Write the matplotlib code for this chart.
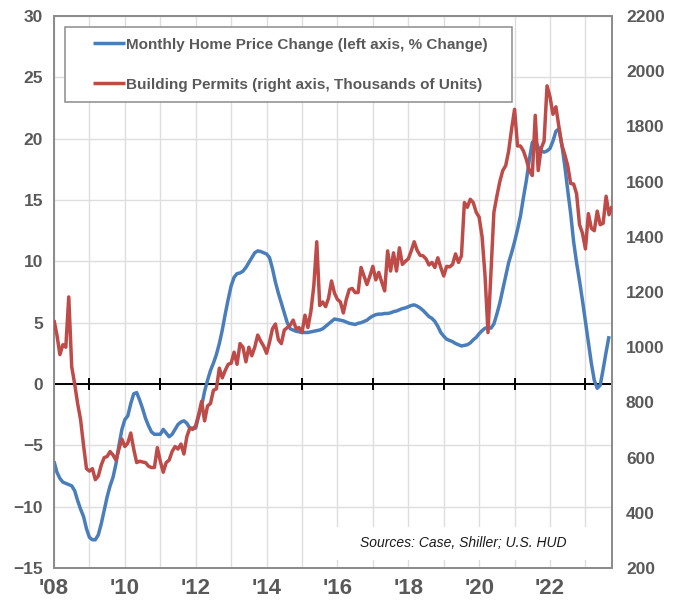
import numpy as np
import matplotlib
matplotlib.use("Agg")
import matplotlib.pyplot as plt
from matplotlib.patches import Rectangle

# ---------------- data (monthly, starting Jan 2008) ----------------
start_year = 2008
price_change = [
    -6.3, -7.2, -7.7, -8.0, -8.1, -8.2, -8.3, -8.7, -9.5, -10.2, -10.8, -11.8,
    -12.5, -12.7, -12.7, -12.3, -11.4, -10.3, -9.2, -8.3, -7.6, -6.5, -5.0, -3.7,
    -2.9, -2.6, -1.6, -0.8, -0.7, -1.3, -2.0, -2.8, -3.4, -3.9, -4.1, -4.1,
    -4.1, -3.7, -4.0, -4.3, -4.1, -3.7, -3.3, -3.1, -3.0, -3.2, -3.6, -3.6,
    -3.6, -2.6, -1.8, -0.6, 0.3, 1.1, 1.7, 2.4, 3.3, 4.4, 5.7, 6.9,
    8.0, 8.7, 9.0, 9.05, 9.2, 9.5, 9.9, 10.3, 10.7, 10.85, 10.8, 10.7,
    10.6, 10.3, 9.4, 8.3, 7.4, 6.6, 5.8, 5.0, 4.5, 4.4, 4.3, 4.25,
    4.2, 4.2, 4.2, 4.25, 4.3, 4.35, 4.4, 4.5, 4.7, 4.9, 5.1, 5.3,
    5.25, 5.2, 5.15, 5.05, 4.95, 4.9, 4.85, 4.95, 5.0, 5.1, 5.2, 5.4,
    5.55, 5.65, 5.7, 5.7, 5.75, 5.75, 5.8, 5.9, 5.95, 6.05, 6.15, 6.2,
    6.3, 6.4, 6.45, 6.35, 6.2, 6.0, 5.75, 5.5, 5.35, 5.1, 4.7, 4.2,
    3.9, 3.65, 3.55, 3.45, 3.3, 3.2, 3.1, 3.15, 3.2, 3.35, 3.6, 3.8,
    4.1, 4.35, 4.55, 4.6, 4.55, 4.9, 5.7, 6.6, 7.7, 8.8, 9.9, 10.7,
    11.6, 12.6, 13.7, 15.2, 16.6, 18.3, 19.7, 19.9, 19.3, 19.0, 18.9, 19.0,
    19.2, 19.8, 20.6, 20.8, 19.5, 17.8, 15.8, 13.9, 11.6, 9.9, 8.4, 6.8,
    5.1, 3.4, 1.7, 0.3, -0.35, -0.1, 1.2, 2.6, 3.9,
]
permits = [
    1098, 1044, 973, 1009, 1000, 1182, 929, 867, 796, 738, 645, 560,
    551, 560, 520, 533, 573, 600, 604, 622, 609, 591, 631, 667,
    640, 653, 689, 631, 582, 587, 584, 582, 569, 564, 564, 636,
    587, 547, 582, 591, 622, 640, 631, 649, 613, 676, 707, 702,
    716, 756, 804, 733, 787, 796, 844, 849, 924, 889, 916, 938,
    942, 982, 938, 1013, 1000, 947, 1000, 969, 1000, 1044, 1022, 1004,
    978, 1018, 1067, 1084, 1027, 1013, 1062, 1071, 1080, 1098, 1067, 1071,
    1053, 1116, 1071, 1129, 1222, 1382, 1151, 1164, 1147, 1178, 1240, 1196,
    1173, 1164, 1124, 1173, 1209, 1213, 1198, 1198, 1289, 1258, 1227, 1258,
    1293, 1244, 1271, 1236, 1204, 1349, 1276, 1342, 1276, 1360, 1300, 1311,
    1320, 1349, 1382, 1351, 1333, 1331, 1320, 1298, 1307, 1289, 1324, 1289,
    1258, 1293, 1291, 1300, 1338, 1307, 1331, 1524, 1507, 1536, 1524, 1489,
    1471, 1400, 1258, 1053, 1267, 1489, 1547, 1600, 1640, 1658, 1711, 1791,
    1862, 1729, 1729, 1711, 1680, 1640, 1622, 1840, 1640, 1720, 1747, 1947,
    1907, 1844, 1871, 1800, 1733, 1698, 1658, 1593, 1591, 1556, 1444, 1413,
    1356, 1484, 1431, 1422, 1493, 1444, 1449, 1547, 1480, 1511,
]
year_ticks = [2008, 2010, 2012, 2014, 2016, 2018, 2020, 2022]
year_labels = ["'08", "'10", "'12", "'14", "'16", "'18", "'20", "'22"]
left_ticks = [-15, -10, -5, 0, 5, 10, 15, 20, 25, 30]
right_ticks = [200, 400, 600, 800, 1000, 1200, 1400, 1600, 1800, 2000, 2200]
label_blue = "Monthly Home Price Change (left axis, % Change)"
label_red = "Building Permits (right axis, Thousands of Units)"
source_note = "Sources: Case, Shiller; U.S. HUD"

# ---------------- styling ----------------
plt.rcParams['font.family'] = ['Liberation Sans', 'DejaVu Sans']
BLUE = '#4a7ebb'
RED = '#be4b48'
GRAY_TXT = '#595959'
SPINE = '#8c8c8c'
GRID = '#dedede'

W, H = 679, 600
fig = plt.figure(figsize=(W / 100, H / 100), dpi=100)
ax = fig.add_axes([54 / W, 1 - 568 / H, (612 - 54) / W, (568 - 16) / H])
ax2 = ax.twinx()

x_blue = start_year + np.arange(len(price_change)) / 12.0
x_red = start_year + np.arange(len(permits)) / 12.0

ax.set_axisbelow(True)
l1, = ax.plot(x_blue, price_change, color=BLUE, lw=2.5, zorder=3,
              solid_capstyle='butt', label=label_blue)
l2, = ax2.plot(x_red, permits, color=RED, lw=2.5, zorder=3,
               solid_capstyle='butt', label=label_red)

ax.set_xlim(start_year, start_year + (len(permits) - 1) / 12.0)
ax.set_ylim(-15, 30)
ax2.set_ylim(200, 2200)

ax.set_xticks(year_ticks)
ax.set_xticklabels(year_labels)
ax.set_xticks(np.arange(2008, 2024), minor=True)
ax.set_yticks(left_ticks)
ax2.set_yticks(right_ticks)

ax.grid(True, which='minor', axis='x', color=GRID, lw=1.0)
ax.grid(True, which='major', axis='x', color=GRID, lw=1.0)
ax.grid(True, which='major', axis='y', color=GRID, lw=1.0)

ax.tick_params(axis='both', which='both', length=0)
ax2.tick_params(axis='both', which='both', length=0)
ax.tick_params(axis='y', pad=8, labelsize=12.5, labelcolor=GRAY_TXT)
ax.tick_params(axis='x', pad=7, labelsize=16, labelcolor=GRAY_TXT)
ax2.tick_params(axis='y', pad=10, labelsize=12.5, labelcolor=GRAY_TXT)
for lab in ax.get_xticklabels() + ax.get_yticklabels() + ax2.get_yticklabels():
    lab.set_fontweight('bold')

for a in (ax, ax2):
    for s in a.spines.values():
        s.set_color(SPINE)
        s.set_linewidth(1.3)

# zero line with year ticks
ax.axhline(0, color='black', lw=1.4, zorder=2)
yt = ax.get_xticks(minor=True)
ax.plot(yt, np.zeros(len(yt)), ls='none', marker='|', ms=8, mew=1.4,
        color='black', zorder=2, clip_on=False)

# source note with white backing
fig.add_artist(Rectangle((328 / W, 1 - 560 / H), 270 / W, 33 / H,
                         transform=fig.transFigure, facecolor='white',
                         edgecolor='none', zorder=1))
fig.text(463 / W, 1 - 543 / H, source_note, ha='center', va='center',
         fontsize=10, style='italic', color='#1a1a1a', zorder=2)

# legend (frame drawn separately)
fig.add_artist(Rectangle((65 / W, 1 - 102 / H), 447 / W, 75 / H,
                         transform=fig.transFigure, facecolor='white',
                         edgecolor=SPINE, lw=1.1, zorder=5))
leg = fig.legend(handles=[l1, l2], loc='upper left',
                 bbox_to_anchor=(93 / W, 1 - 37.5 / H), frameon=False,
                 borderpad=0, borderaxespad=0, handlelength=2.1,
                 handletextpad=0.05, labelspacing=1.72,
                 prop={'size': 11, 'weight': 'bold'})
leg.set_zorder(6)
for t in leg.get_texts():
    t.set_color(GRAY_TXT)

fig.savefig('out.png', dpi=100)
